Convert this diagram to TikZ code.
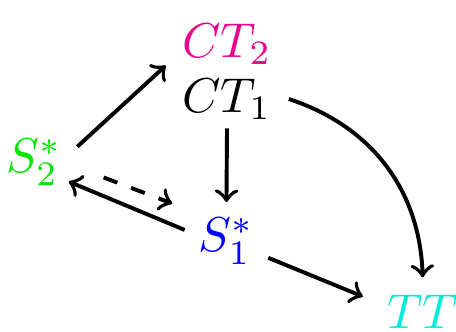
\documentclass[tikz,border=0pt]{standalone}
\usetikzlibrary{arrows.meta}
\definecolor{CTPink}{RGB}{236,0,140}
\definecolor{SGreen}{RGB}{0,230,0}
\definecolor{SBlue}{RGB}{0,0,255}
\definecolor{TTCyan}{RGB}{0,235,220}
\tikzset{
  >=to,
  arr/.style={->,line width=.8pt},
  darr/.style={arr,dashed}
}
\begin{document}
\begin{tikzpicture}[x=1cm,y=1cm]
  \useasboundingbox (0,0) rectangle (3.274,2.377);
  \node[text=CTPink] (ct2) at (1.63,2.061) {$CT_2$};
  \node (ct1) at (1.63,1.666) {$CT_1$};
  \node[text=SGreen] (s2) at (.244,1.213) {$S_2^*$};
  \node[text=SBlue] (s1) at (1.626,.646) {$S_1^*$};
  \node[text=TTCyan] (tt) at (3.035,.142) {$TT$};
  \draw[arr] ([shift={(.31,.11)}]s2.center) -- ([shift={(-.44,.24)}]ct1.center);
  \draw[arr] ([shift={(0,-.21)}]ct1.center) -- ([shift={(0,.28)}]s1.center);
  \draw[darr] ([shift={(.50,-.11)}]s2.center) -- ([shift={(-.39,.27)}]s1.center);
  \draw[arr] ([shift={(-.30,.08)}]s1.center) -- ([shift={(.25,-.14)}]s2.center);
  \draw[arr] ([shift={(.30,-.12)}]s1.center) -- ([shift={(-.43,.106)}]tt.center);
  \draw[arr] (ct1.east) to[bend left=35] (tt.north);
\end{tikzpicture}
\end{document}
